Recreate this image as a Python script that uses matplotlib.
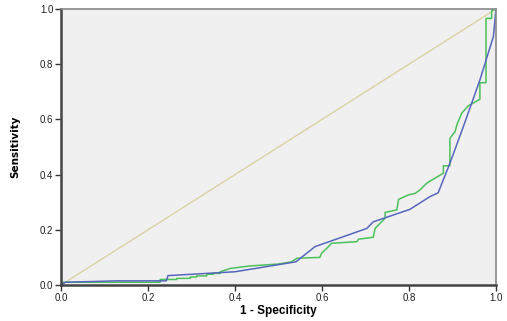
import matplotlib
matplotlib.use('Agg')
import matplotlib.pyplot as plt

# blue ROC curve (smooth-ish)
blue_x = [0.0, 0.01, 0.128, 0.242, 0.246, 0.40, 0.54, 0.584, 0.703, 0.718, 0.802, 0.848,
          0.867, 0.894, 0.925, 0.963, 0.994, 1.0]
blue_y = [0.0, 0.01, 0.015, 0.015, 0.034, 0.048, 0.084, 0.139, 0.205, 0.229, 0.274, 0.32,
          0.334, 0.441, 0.574, 0.743, 0.90, 1.0]

# green ROC curve (step-like)
green_x = [0.0, 0.005, 0.228, 0.228, 0.266, 0.266, 0.297, 0.297, 0.312, 0.312, 0.335,
           0.335, 0.35, 0.35, 0.366, 0.366, 0.389,
           0.434, 0.5, 0.53, 0.542, 0.595, 0.599, 0.611, 0.622, 0.68, 0.684, 0.718,
           0.722, 0.745, 0.745, 0.772, 0.776, 0.798, 0.814, 0.825, 0.84, 0.852,
           0.879, 0.879, 0.894, 0.894, 0.906, 0.91, 0.921, 0.936, 0.944, 0.963,
           0.963, 0.977, 0.977, 0.99, 0.99, 1.0]
green_y = [0.0, 0.01, 0.01, 0.02, 0.02, 0.024, 0.024, 0.029, 0.029, 0.033, 0.033,
           0.039, 0.039, 0.042, 0.042, 0.048, 0.06,
           0.069, 0.076, 0.084, 0.097, 0.1, 0.115, 0.133, 0.151, 0.157, 0.166, 0.173,
           0.205, 0.242, 0.263, 0.272, 0.31, 0.326, 0.332, 0.344, 0.368, 0.38,
           0.405, 0.432, 0.432, 0.531, 0.556, 0.58, 0.622, 0.649, 0.656, 0.673,
           0.733, 0.733, 0.966, 0.966, 0.994, 1.0]

ticks = [0.0, 0.2, 0.4, 0.6, 0.8, 1.0]

plt.rcParams['font.family'] = ['Liberation Sans', 'DejaVu Sans']

fig = plt.figure(figsize=(5.07, 3.21), dpi=100)
ax = fig.add_axes([61 / 507, 36 / 321, 435 / 507, 276 / 321])
ax.set_facecolor('#f0f0f0')

ax.plot([0, 1], [0, 1], color='#d9d3a6', lw=1)
ax.plot(green_x, green_y, color='#4cc05a', lw=1.1)
ax.plot(blue_x, blue_y, color='#5666bd', lw=1.1)

ax.set_xlim(0, 1)
ax.set_ylim(0, 1)
ax.set_xticks(ticks)
ax.set_yticks(ticks)
ax.set_xticklabels([f"{t:.1f}" for t in ticks])
ax.set_yticklabels([f"{t:.1f}" for t in ticks])
ax.tick_params(labelsize=7, length=4, width=1, color='#333333', pad=1.5,
               labelcolor='#222222')

for s in ['left', 'bottom']:
    ax.spines[s].set_linewidth(1.8)
    ax.spines[s].set_color('#444444')
for s in ['right', 'top']:
    ax.spines[s].set_linewidth(1.2)
    ax.spines[s].set_color('#888888')

ax.set_xlabel('1 - Specificity', fontsize=8.5, fontweight='bold', labelpad=2)
ax.set_ylabel('Sensitivity', fontsize=7.5, fontweight='bold', labelpad=14,
              family=['DejaVu Sans'])

fig.savefig('out.png', dpi=100)
